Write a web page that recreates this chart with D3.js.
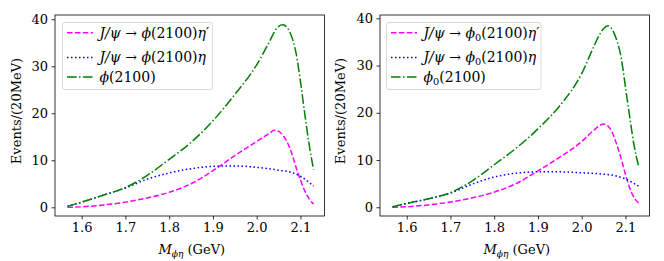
<!DOCTYPE html>
<html>
<head>
<meta charset="utf-8">
<script src="https://cdn.jsdelivr.net/npm/d3@7"></script>
<style>
  body { margin: 0; background: #fff; }
  svg text { font-family: "DejaVu Serif", "Liberation Serif", serif; fill: #000; }
</style>
</head>
<body>
<svg id="chart" width="664" height="261"></svg>
<script>
var massA = [1.5675, 1.60, 1.65, 1.70, 1.75, 1.80, 1.85, 1.90, 1.95, 2.00, 2.03, 2.04, 2.05, 2.06, 2.07, 2.08, 2.09, 2.10, 2.11, 2.12, 2.13];
var massB = [1.5675, 1.60, 1.65, 1.70, 1.75, 1.80, 1.85, 1.90, 1.95, 2.00, 2.05, 2.08, 2.10, 2.12, 2.13];

// left panel: phi(2100)
var leftEtaPrime = [0.0, 0.1, 0.5, 1.1, 2.0, 3.2, 5.0, 7.8, 11.0, 14.0, 15.8, 16.4, 16.2, 15.3, 13.8, 11.5, 8.5, 5.8, 3.5, 1.8, 0.7];
var leftEta      = [0.2, 1.1, 2.6, 4.1, 6.0, 7.3, 8.2, 8.7, 8.8, 8.5, 7.9, 7.4, 6.6, 5.3, 4.5];
var leftTotal    = [0.2, 1.1, 2.6, 4.2, 6.8, 10.2, 13.8, 18.4, 24.0, 30.3, 35.4, 37.2, 38.5, 38.8, 38.2, 36.3, 32.8, 26.8, 19.8, 13.3, 8.0];

// right panel: phi0(2100)
var rightEtaPrime = [0.0, 0.1, 0.5, 1.1, 2.0, 3.2, 5.0, 7.7, 10.6, 13.9, 16.5, 17.2, 17.6, 17.2, 15.8, 13.3, 10.4, 7.0, 4.0, 2.0, 0.9];
var rightEta      = [0.1, 0.8, 1.8, 3.0, 4.9, 6.4, 7.2, 7.5, 7.5, 7.3, 7.0, 6.6, 6.0, 5.0, 4.5];
var rightTotal    = [0.1, 0.8, 1.8, 3.1, 5.6, 9.0, 12.5, 16.6, 21.5, 28.3, 34.5, 36.4, 37.8, 38.4, 37.6, 35.4, 31.8, 25.5, 19.0, 13.0, 8.7];

var xTicks = [1.6, 1.7, 1.8, 1.9, 2.0, 2.1];
var yTicks = [0, 10, 20, 30, 40];

var svg = d3.select("#chart");
var SERIF = "'DejaVu Serif', 'Liberation Serif', serif";

var styles = [
  { color: "#ff00ff", dash: "5.5,2.4" },
  { color: "#0000ff", dash: "1.5,2.5" },
  { color: "#008000", dash: "9.6,2.4,1.5,2.4" }
];

function zip(xs, ys) {
  return xs.map(function(x, i) { return [x, ys[i]]; });
}

// mathtext-ish label pieces: [text, italic?, subscript?]
function addRich(sel, parts, size) {
  var shifted = 0;
  parts.forEach(function(p) {
    var t = sel.append("tspan").text(p[0]).style("font-family", SERIF);
    t.style("font-style", p[1] ? "italic" : "normal");
    var want = p[2] ? 3 : 0;
    if (want !== shifted) { t.attr("dy", want - shifted); shifted = want; }
    t.style("font-size", (p[2] ? size * 0.7 : size) + "px");
  });
}

function drawPanel(cfg) {
  var x = d3.scaleLinear().domain([1.539, 2.155]).range([cfg.left, cfg.right]);
  var y = d3.scaleLinear().domain(cfg.ydom).range([216, 15]);
  var g = svg.append("g");

  var line = d3.line()
    .x(function(d) { return x(d[0]); })
    .y(function(d) { return y(d[1]); })
    .curve(d3.curveMonotoneX);

  var series = [zip(massA, cfg.etaPrime), zip(massB, cfg.eta), zip(massA, cfg.total)];
  series.forEach(function(s, i) {
    g.append("path")
      .datum(s)
      .attr("d", line)
      .attr("fill", "none")
      .attr("stroke", styles[i].color)
      .attr("stroke-width", 1.5)
      .attr("stroke-dasharray", styles[i].dash);
  });

  // axes
  var xAxis = d3.axisBottom(x).tickValues(xTicks).tickSize(3.5).tickPadding(3.5)
    .tickFormat(d3.format(".1f"));
  var yAxis = d3.axisLeft(y).tickValues(yTicks).tickSize(3.5).tickPadding(3.5);

  var gx = g.append("g").attr("transform", "translate(0,216)").call(xAxis);
  var gy = g.append("g").attr("transform", "translate(" + cfg.left + ",0)").call(yAxis);
  [gx, gy].forEach(function(a) {
    a.attr("font-family", null).attr("font-size", null);
    a.select(".domain").remove();
    a.selectAll("text").style("font-size", "13px").style("font-family", SERIF);
    a.selectAll("line").attr("stroke", "#000").attr("stroke-width", 0.8);
  });

  g.append("rect")
    .attr("x", cfg.left).attr("y", 15)
    .attr("width", cfg.right - cfg.left).attr("height", 201)
    .attr("fill", "none").attr("stroke", "#000").attr("stroke-width", 0.8);

  // axis labels
  var xl = g.append("text")
    .attr("x", (cfg.left + cfg.right) / 2 + 2).attr("y", 254)
    .attr("text-anchor", "middle");
  addRich(xl, [["M", true], ["\u03d5\u03b7", true, 1], [" (GeV)", false]], 13);

  g.append("text")
    .attr("transform", "translate(" + cfg.ylabX + ",111) rotate(-90)")
    .attr("text-anchor", "middle")
    .style("font-size", "13px").style("font-family", SERIF)
    .text("Events/(20MeV)");

  // legend
  var lg = g.append("g");
  lg.append("rect")
    .attr("x", cfg.legX).attr("y", 22.5)
    .attr("width", cfg.legW).attr("height", 67)
    .attr("rx", 2.5)
    .attr("fill", "#fff").attr("fill-opacity", 0.8)
    .attr("stroke", "#d0d0d0").attr("stroke-width", 0.8);

  var rowsY = [32.8, 57.5, 77];
  cfg.labels.forEach(function(lab, i) {
    lg.append("line")
      .attr("x1", cfg.legX + 4.5).attr("x2", cfg.legX + 30.5)
      .attr("y1", rowsY[i]).attr("y2", rowsY[i])
      .attr("stroke", styles[i].color).attr("stroke-width", 1.5)
      .attr("stroke-dasharray", styles[i].dash);
    var t = lg.append("text")
      .attr("x", cfg.legX + 37).attr("y", rowsY[i] + 4.8);
    addRich(t, lab, 14);
  });
}

drawPanel({
  left: 55, right: 324.5, ydom: [-1.85, 40.9], ylabX: 21,
  etaPrime: leftEtaPrime, eta: leftEta, total: leftTotal,
  legX: 62.5, legW: 150,
  labels: [
    [["J/\u03c8", true], [" \u2192 ", false], ["\u03d5", true], ["(2100)", false], ["\u03b7", true], ["\u2032", false]],
    [["J/\u03c8", true], [" \u2192 ", false], ["\u03d5", true], ["(2100)", false], ["\u03b7", true]],
    [["\u03d5", true], ["(2100)", false]]
  ]
});

drawPanel({
  left: 380, right: 649.5, ydom: [-1.85, 40.7], ylabX: 345,
  etaPrime: rightEtaPrime, eta: rightEta, total: rightTotal,
  legX: 386.5, legW: 154.5,
  labels: [
    [["J/\u03c8", true], [" \u2192 ", false], ["\u03d5", true], ["0", false, 1], ["(2100)", false], ["\u03b7", true], ["\u2032", false]],
    [["J/\u03c8", true], [" \u2192 ", false], ["\u03d5", true], ["0", false, 1], ["(2100)", false], ["\u03b7", true]],
    [["\u03d5", true], ["0", false, 1], ["(2100)", false]]
  ]
});
</script>
</body>
</html>
